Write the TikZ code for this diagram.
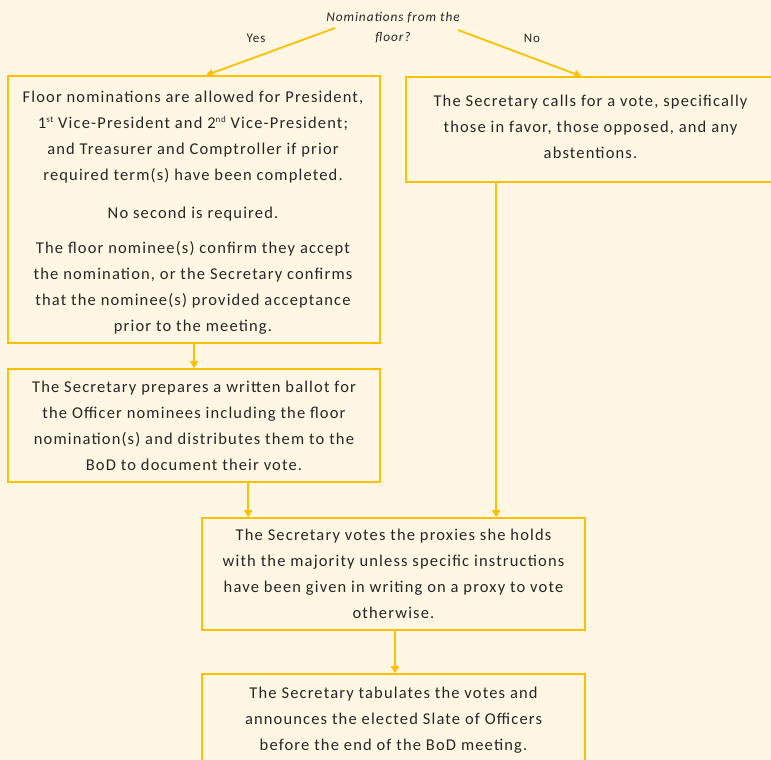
\documentclass[tikz,border=0pt]{standalone}
\usepackage{fontspec}
\setmainfont{Carlito}[LetterSpace=7]
\usetikzlibrary{arrows.meta,calc}
\definecolor{gold}{HTML}{FFC000}
\definecolor{bg}{HTML}{FFF7E4}
\definecolor{ink}{HTML}{262626}
\newcommand\bodyfont{\fontsize{16.5}{26}\selectfont}
\newcommand\decfont{\fontsize{13.3}{20}\selectfont\itshape}
\newcommand\lblfont{\fontsize{13}{16}\selectfont}
\newcommand\supr[1]{\raisebox{6pt}{\fontsize{9}{9}\selectfont #1}}
\begin{document}
\begin{tikzpicture}[x=1pt,y=-1pt,
  box/.style={draw=gold, line width=1.6pt, inner sep=0pt, align=center, text=ink, font=\bodyfont},
  boxtext/.style={inner sep=0pt, align=center, text=ink, font=\bodyfont},
  flow/.style={draw=gold, line width=1.8pt, -{Triangle[length=7pt,width=8pt]}},
  lbl/.style={text=ink, font=\lblfont}]
\fill[bg] (0,0) rectangle (771,760);
\useasboundingbox (0,0) rectangle (771,760);
\clip (0,0) rectangle (771,760);

\node[text=ink, font=\decfont, align=center] (dec) at (393,28) {Nominations from the\\floor?};
\node[lbl] (yes) at (256,38) {Yes};
\node[lbl] (no) at (532,38) {No};

\node[box, minimum width=372pt, minimum height=267pt] (b1) at (194,209.5) {};
\node[boxtext] (b1t) at (193,213) {Floor nominations are allowed for President,\\
1\supr{st} Vice-President and 2\supr{nd} Vice-President;\\
and Treasurer and Comptroller if prior\\
required term(s) have been completed.\\[12pt]
No second is required.\\[9pt]
The floor nominee(s) confirm they accept\\
the nomination, or the Secretary confirms\\
that the nominee(s) provided acceptance\\
prior to the meeting.};

\node[box, minimum width=369pt, minimum height=105pt] (b2) at (590.5,129.5) {};
\node[boxtext] (b2t) at (590.5,127) {The Secretary calls for a vote, specifically\\
those in favor, those opposed, and any\\
abstentions.};

\node[box, minimum width=372pt, minimum height=113pt] (b3) at (194,425.5) {The Secretary prepares a written ballot for\\
the Officer nominees including the floor\\
nomination(s) and distributes them to the\\
BoD to document their vote.};

\node[box, minimum width=383pt, minimum height=112pt] (b4) at (393.5,574) {The Secretary votes the proxies she holds\\
with the majority unless specific instructions\\
have been given in writing on a proxy to vote\\
otherwise.};

\node[box, minimum width=383pt, minimum height=92pt] (b5) at (393.5,720) {The Secretary tabulates the votes and\\
announces the elected Slate of Officers\\
before the end of the BoD meeting.};

\coordinate (yesS) at (335,28);
\coordinate (noS) at (458,30);
\coordinate (p3) at ($(b3.south west)+(241,0)$);
\coordinate (p2) at ($(b2.south west)+(91,0)$);
\coordinate (p4) at ($(b4.south)+(1.5,0)$);

\draw[flow] (yesS) -- ($(b1.north west)+(199,0)$);
\draw[flow] (noS) -- ($(b2.north west)+(176,0)$);
\draw[flow] (b1.south) -- (b3.north);
\draw[flow] (p3) -- (p3 |- b4.north);
\draw[flow] (p2) -- (p2 |- b4.north);
\draw[flow] (p4) -- (p4 |- b5.north);
\end{tikzpicture}
\end{document}
